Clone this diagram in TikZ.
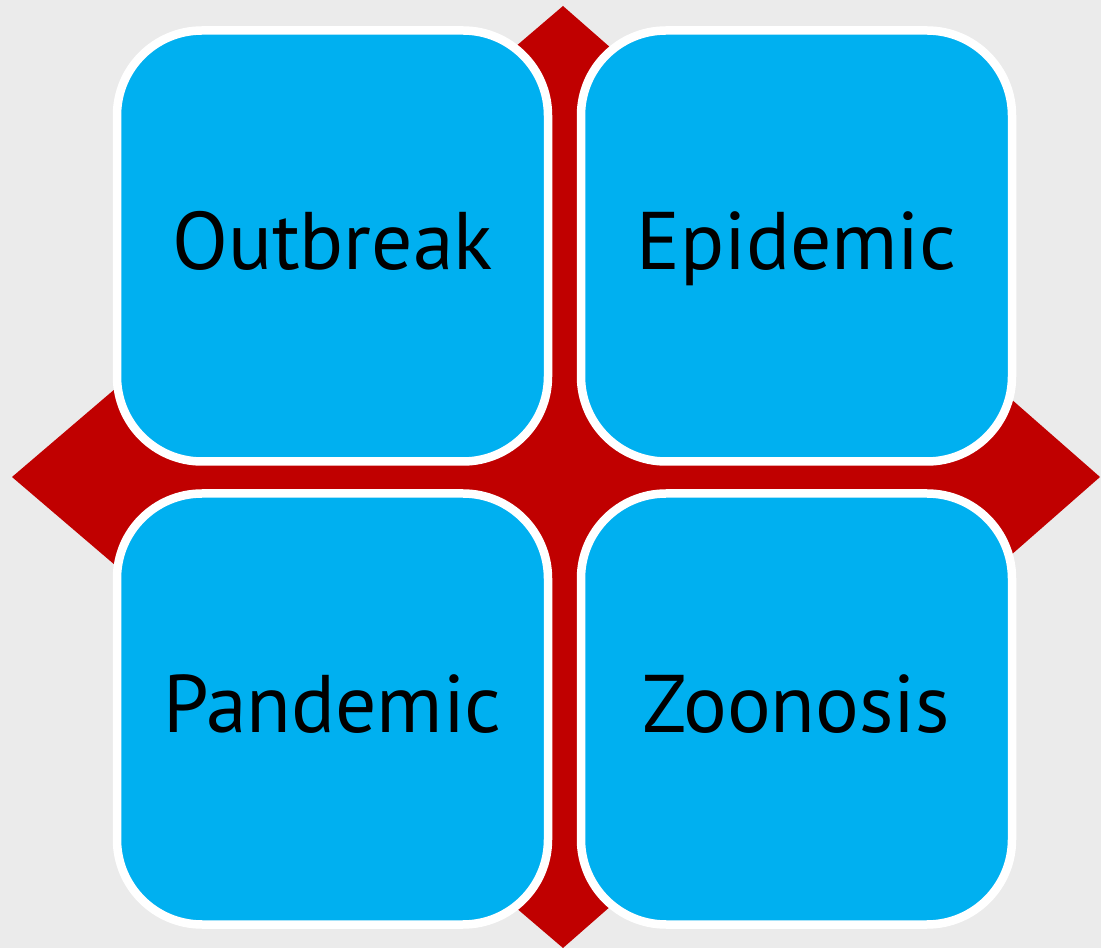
\documentclass[tikz,border=0pt]{standalone}
\usepackage{fontspec}
\setmainfont{PT Sans}
\usetikzlibrary{positioning}
\definecolor{bgGray}{HTML}{EBEBEB}
\definecolor{crossRed}{HTML}{C00000}
\definecolor{boxBlue}{HTML}{00B0F0}
\begin{document}
\begin{tikzpicture}[auto,
        term/.style={rectangle, draw=white, line width=0.17cm, fill=boxBlue, rounded corners=1.7cm, minimum width=8.62cm, minimum height=8.62cm, inner sep=0pt, text height=1.2cm, text depth=0.24cm, font=\fontsize{46.5}{52}\selectfont, text=black}]
        % background and red diamond
        \fill[bgGray] (0,0) rectangle (22.02,18.96);
        \useasboundingbox (0,0) rectangle (22.02,18.96);
        \fill[crossRed] (0.24,9.42) -- (11.26,18.84) -- (22.0,9.42) -- (11.26,0) -- cycle;
        % the four terms
        \node[term] (outb) at (6.65,14.04) {Outbreak};
        \node[term, right of=outb, node distance=9.28cm] (epid) {Epidemic};
        \node[term, below of=outb, node distance=9.26cm] (pand) {Pandemic};
        \node[term, right of=pand, node distance=9.28cm] (zoon) {Zoonosis};
    \end{tikzpicture}
\end{document}
